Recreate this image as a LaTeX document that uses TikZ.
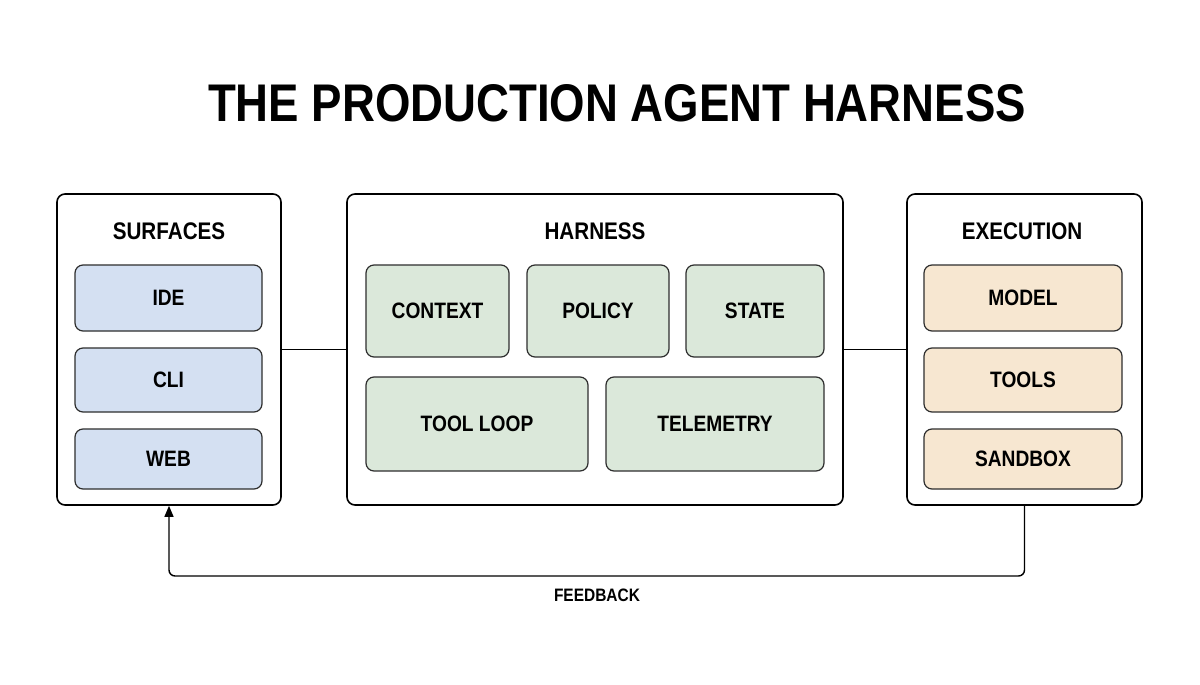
\documentclass[tikz,border=0pt]{standalone}
\usepackage{fontspec}
\setmainfont{Liberation Sans}
\newfontfamily\condfont[FakeStretch=0.86]{Liberation Sans}
\usetikzlibrary{arrows.meta,calc}
\definecolor{blueF}{HTML}{D4E0F2}
\definecolor{greenF}{HTML}{DBE8DA}
\definecolor{beigeF}{HTML}{F7E7D1}
\definecolor{edge}{HTML}{2E2E2E}
\tikzset{
  group/.style={draw=black, line width=1.6pt, rounded corners=8pt, fill=white},
  item/.style={draw=edge, line width=1.2pt, rounded corners=8pt,
    font=\condfont\bfseries\fontsize{22.3}{26}\selectfont, align=center, inner sep=0pt},
  bluebox/.style={item, fill=blueF},
  greenbox/.style={item, fill=greenF},
  beigebox/.style={item, fill=beigeF},
  grouptitle/.style={font=\condfont\bfseries\fontsize{24}{28}\selectfont},
  link/.style={line width=1.4pt, draw=black}
}
\begin{document}
\begin{tikzpicture}[x=1pt,y=-1pt]
\useasboundingbox[fill=white] (0,0) rectangle (1200,685);
\node[font=\condfont\bfseries\fontsize{53}{60}\selectfont] (title) at (617,103) {THE PRODUCTION AGENT HARNESS};

\node[group, minimum width=224pt, minimum height=311pt] (surf) at (169,349.5) {};
\node[group, minimum width=496pt, minimum height=311pt] (harn) at (595,349.5) {};
\node[group, minimum width=235pt, minimum height=311pt] (exec) at (1024.5,349.5) {};

\node[grouptitle] (surft) at (169,231) {SURFACES};
\node[grouptitle] (harnt) at (595,231) {HARNESS};
\node[grouptitle] (exect) at (1022,231) {EXECUTION};

\node[bluebox, minimum width=187pt, minimum height=66pt] (ide) at (168.5,298) {IDE};
\node[bluebox, minimum width=187pt, minimum height=64pt] (cli) at (168.5,380) {CLI};
\node[bluebox, minimum width=187pt, minimum height=60pt] (web) at (168.5,459) {WEB};

\node[greenbox, minimum width=143pt, minimum height=92pt] (ctx) at (437.5,311) {CONTEXT};
\node[greenbox, minimum width=142pt, minimum height=92pt] (pol) at (598,311) {POLICY};
\node[greenbox, minimum width=138pt, minimum height=92pt] (st) at (755,311) {STATE};
\node[greenbox, minimum width=222pt, minimum height=94pt] (tl) at (477,424) {TOOL LOOP};
\node[greenbox, minimum width=218pt, minimum height=94pt] (tel) at (715,424) {TELEMETRY};

\node[beigebox, minimum width=198pt, minimum height=66pt] (model) at (1023,298) {MODEL};
\node[beigebox, minimum width=198pt, minimum height=64pt] (tools) at (1023,380) {TOOLS};
\node[beigebox, minimum width=198pt, minimum height=60pt] (sand) at (1023,459) {SANDBOX};

\draw[link] (surf.east) -- (harn.west);
\draw[link] (harn.east) -- (exec.west);

\coordinate (fbl) at (0,576);
\draw[link, rounded corners=6pt, -{Triangle[length=11pt,width=9pt]}]
  (exec.south) -- (exec.south |- fbl) -- (surf.south |- fbl) -- (surf.south);
\node[font=\condfont\bfseries\fontsize{18}{21}\selectfont] (fb) at (597,595) {FEEDBACK};
\end{tikzpicture}
\end{document}
